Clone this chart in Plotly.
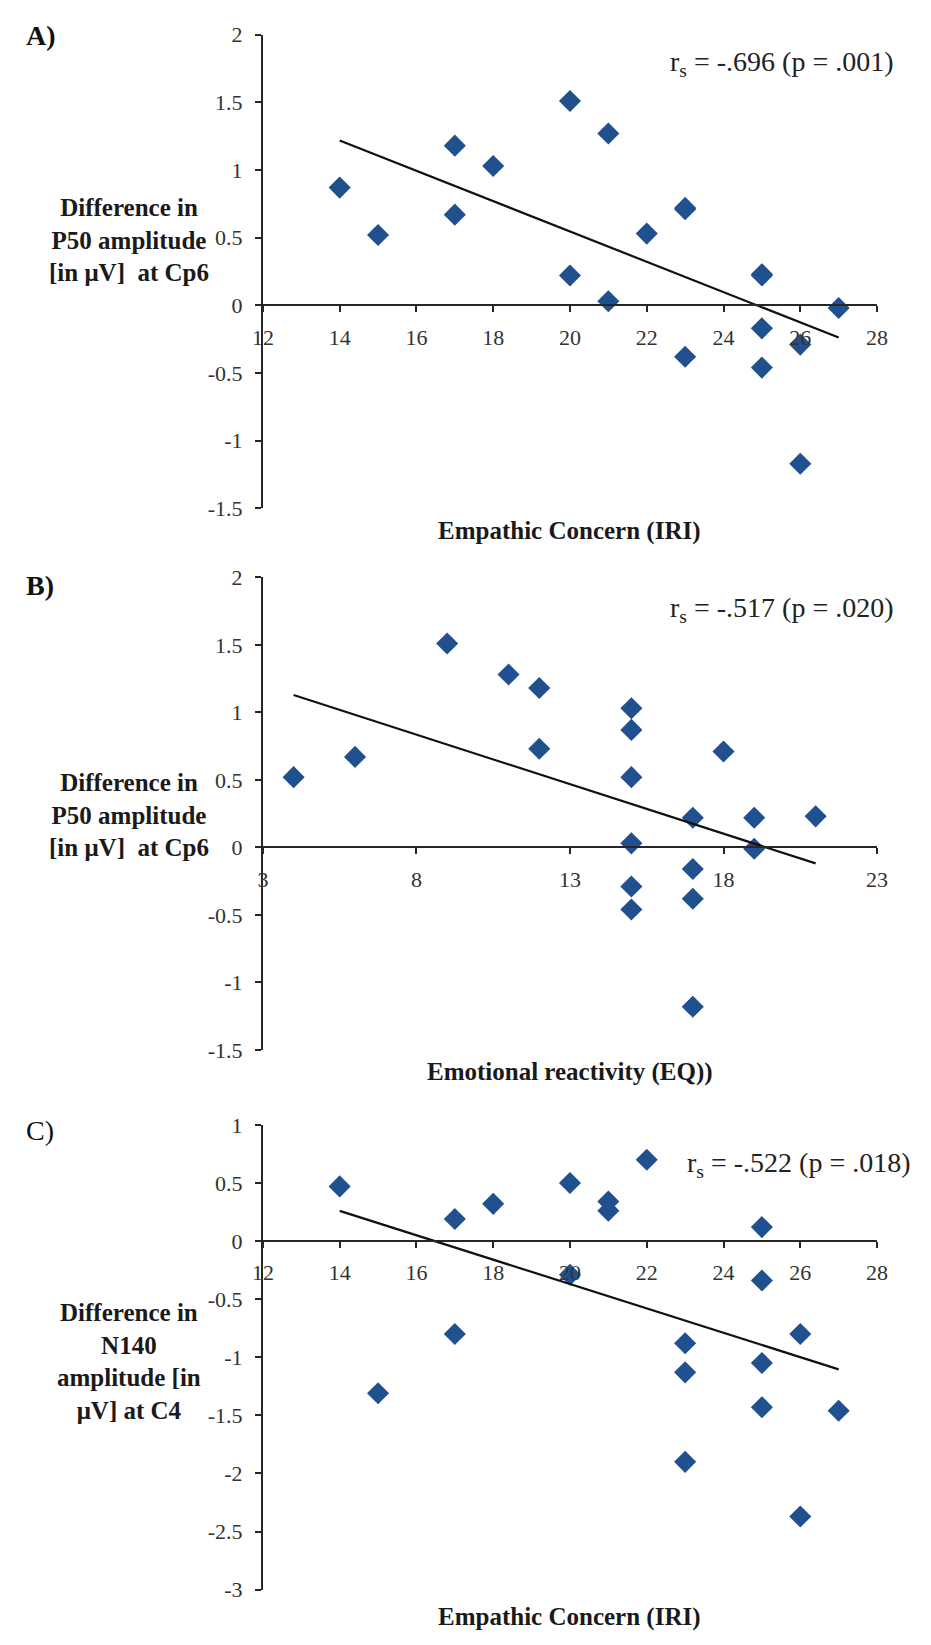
import numpy as np
import plotly.graph_objects as go

W, H = 931, 1645

# ---- data -------------------------------------------------------------
# Empathic Concern (IRI) scores, one per participant
iri = [14, 15, 17, 17, 18, 20, 20, 21, 21, 22,
       23, 23, 23, 25, 25, 25, 25, 26, 26, 27]
# P50 amplitude difference at Cp6 (µV), same participants as `iri`
p50_by_iri = [0.87, 0.52, 1.18, 0.67, 1.03, 1.51, 0.22, 1.27, 0.03, 0.53,
              0.72, 0.71, -0.38, 0.22, 0.23, -0.17, -0.46, -0.29, -1.17, -0.02]

# Emotional reactivity (EQ) scores
eq = [4, 6, 9, 11, 12, 12, 15, 15, 15, 15,
      15, 15, 17, 17, 17, 17, 18, 19, 19, 21]
# P50 amplitude difference at Cp6 (µV), ordered as `eq`
p50_by_eq = [0.52, 0.67, 1.51, 1.28, 1.18, 0.73, 1.03, 0.87, 0.52, 0.03,
             -0.29, -0.46, 0.22, -0.16, -0.38, -1.18, 0.71, 0.22, -0.01, 0.23]

# N140 amplitude difference at C4 (µV), ordered as `iri`
n140_by_iri = [0.47, -1.31, 0.19, -0.80, 0.32, 0.50, -0.29, 0.34, 0.26, 0.70,
               -0.88, -1.13, -1.90, 0.12, -0.34, -1.05, -1.43, -0.80, -2.37, -1.46]

# axis ticks
x_ticks_iri = [12, 14, 16, 18, 20, 22, 24, 26, 28]
x_ticks_eq = [3, 8, 13, 18, 23]
y_ticks_p50 = [-1.5, -1, -0.5, 0, 0.5, 1, 1.5, 2]
y_ticks_n140 = [-3, -2.5, -2, -1.5, -1, -0.5, 0, 0.5, 1]

stats = ["r<sub>s</sub> = -.696 (p = .001)",
         "r<sub>s</sub> = -.517 (p = .020)",
         "r<sub>s</sub> = -.522 (p = .018)"]

# ---- styling ----------------------------------------------------------
FONT = "Liberation Serif"
MARK = "#21508F"
AX = "#262626"
X_DOM = [258 / W, 887 / W]


def py(y_px):
    return 1 - y_px / H


def fmt(v):
    return "%g" % v


panels = [
    dict(x=iri, y=p50_by_iri, xr=[12, 28], xt=x_ticks_iri, yr=[-1.5, 2], yt=y_ticks_p50,
         top=23, bottom=504, label="<b>A)</b>", label_y=24, stat=stats[0], stat_x=906, stat_y=52,
         ytitle="<b>Difference in<br>P50 amplitude<br>[in μV]  at Cp6</b>", ytitle_y=232,
         xtitle="<b>Empathic Concern (IRI)</b>", xtitle_y=527),
    dict(x=eq, y=p50_by_eq, xr=[3, 23], xt=x_ticks_eq, yr=[-1.5, 2], yt=y_ticks_p50,
         top=574, bottom=1054, label="<b>B)</b>", label_y=582, stat=stats[1], stat_x=906, stat_y=607,
         ytitle="<b>Difference in<br>P50 amplitude<br>[in μV]  at Cp6</b>", ytitle_y=815,
         xtitle="<b>Emotional reactivity (EQ))</b>", xtitle_y=1076),
    dict(x=iri, y=n140_by_iri, xr=[12, 28], xt=x_ticks_iri, yr=[-3, 1], yt=y_ticks_n140,
         top=1130, bottom=1602, label="C)", label_y=1136, stat=stats[2], stat_x=924, stat_y=1170,
         ytitle="<b>Difference in<br>N140<br>amplitude [in<br>μV] at C4</b>", ytitle_y=1370,
         xtitle="<b>Empathic Concern (IRI)</b>", xtitle_y=1630),
]

fig = go.Figure()
annotations = []

for i, p in enumerate(panels, start=1):
    xa = "x" if i == 1 else f"x{i}"
    ya = "y" if i == 1 else f"y{i}"
    xkey = "xaxis" if i == 1 else f"xaxis{i}"
    ykey = "yaxis" if i == 1 else f"yaxis{i}"

    ydom = [py(p["bottom"]), py(p["top"])]
    r0, r1 = p["yr"]
    # x axis crosses the y axis at zero
    zero_pos = ydom[0] + (ydom[1] - ydom[0]) * (0 - r0) / (r1 - r0)

    fig.add_trace(go.Scatter(
        x=p["x"], y=p["y"], mode="markers", xaxis=xa, yaxis=ya,
        marker=dict(symbol="diamond", size=17, color=MARK, line=dict(width=0)),
        showlegend=False, hoverinfo="x+y"))

    # least-squares trend line across the observed range
    xs = np.array(p["x"], dtype=float)
    ys = np.array(p["y"], dtype=float)
    slope, icpt = np.polyfit(xs, ys, 1)
    xl = np.array([xs.min(), xs.max()])
    fig.add_trace(go.Scatter(
        x=xl, y=slope * xl + icpt, mode="lines", xaxis=xa, yaxis=ya,
        line=dict(color="#111111", width=2.2), showlegend=False, hoverinfo="skip"))

    tickfont = dict(family=FONT, size=22, color="#333333")
    fig.update_layout(**{
        xkey: dict(domain=X_DOM, range=p["xr"], anchor="free", position=zero_pos,
                   tickvals=p["xt"], ticktext=[fmt(v) for v in p["xt"]],
                   showline=True, linecolor=AX, linewidth=2,
                   ticks="outside", ticklen=6, tickwidth=2, tickcolor=AX,
                   showgrid=False, zeroline=False, ticklabelstandoff=6,
                   tickfont=tickfont),
        ykey: dict(domain=ydom, range=p["yr"], anchor=xa,
                   tickvals=p["yt"], ticktext=[fmt(v) for v in p["yt"]],
                   showline=True, linecolor=AX, linewidth=2,
                   ticks="outside", ticklen=6, tickwidth=2, tickcolor=AX,
                   showgrid=False, zeroline=False, ticklabelstandoff=8,
                   tickfont=tickfont),
    })

    annotations += [
        dict(text=p["label"], x=13 / W, y=py(p["label_y"]), xref="paper", yref="paper",
             xanchor="left", yanchor="middle", showarrow=False,
             font=dict(family=FONT, size=28, color="#111111")),
        dict(text=p["stat"], x=p["stat_x"] / W, y=py(p["stat_y"]), xref="paper", yref="paper",
             xanchor="right", yanchor="middle", showarrow=False,
             font=dict(family=FONT, size=28, color="#222222")),
        dict(text=p["ytitle"], x=121 / W, y=py(p["ytitle_y"]), xref="paper", yref="paper",
             xanchor="center", yanchor="middle", align="center", showarrow=False,
             font=dict(family=FONT, size=25, color="#1a1a1a")),
        dict(text=p["xtitle"], x=(X_DOM[0] + X_DOM[1]) / 2, y=py(p["xtitle_y"]),
             xref="paper", yref="paper", xanchor="center", yanchor="middle", showarrow=False,
             font=dict(family=FONT, size=25, color="#1a1a1a")),
    ]

fig.update_layout(
    width=W, height=H, margin=dict(l=0, r=0, t=0, b=0),
    paper_bgcolor="white", plot_bgcolor="white",
    annotations=annotations, showlegend=False,
)

fig.write_html("out.html")
